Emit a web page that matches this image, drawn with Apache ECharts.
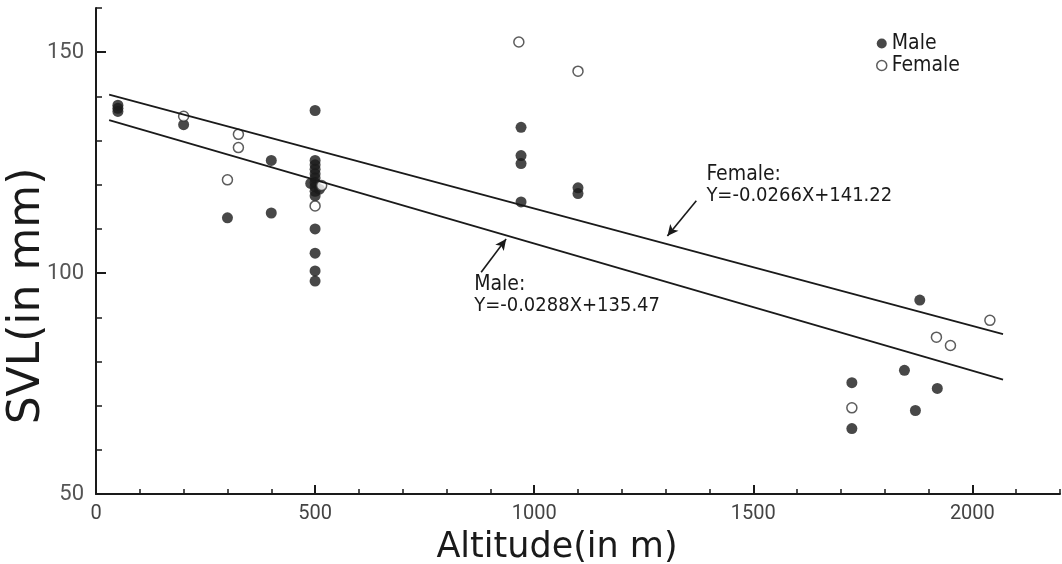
<!DOCTYPE html>
<html>
<head>
<meta charset="utf-8">
<script src="https://cdn.jsdelivr.net/npm/echarts@6/dist/echarts.min.js"></script>
<style>
html,body{margin:0;padding:0;background:#fff;}
#c{width:1062px;height:564px;}
</style>
</head>
<body>
<div id="c"></div>
<script>
// ---- data ----
const maleAltitude = [50, 50, 50, 200, 300, 400, 400, 500, 500, 500, 500, 500, 500, 500, 500, 500, 500, 490, 510, 500, 500, 500, 500, 970, 970, 970, 970, 1100, 1100, 1880, 1845, 1725, 1725, 1920, 1870];
const maleSVL      = [138.0, 137.3, 136.6, 133.6, 112.5, 125.5, 113.6, 136.8, 125.5, 124.5, 123.5, 122.5, 121.5, 120.5, 119.5, 118.5, 117.5, 120.3, 119.0, 110.0, 104.5, 100.5, 98.2, 133.0, 126.6, 124.8, 116.1, 119.3, 118.0, 93.9, 78.0, 75.2, 64.8, 73.9, 68.9];
const femaleAltitude = [200, 325, 325, 300, 515, 500, 965, 1100, 2040, 1918, 1950, 1725];
const femaleSVL      = [135.5, 131.4, 128.4, 121.1, 119.8, 115.2, 152.3, 145.7, 89.3, 85.5, 83.6, 69.5];

// regression lines (end points)
const femaleLineX = [30, 2070];
const femaleLineY = [140.4, 86.2];
const maleLineX = [30, 2070];
const maleLineY = [134.6, 75.9];

// annotation arrows (tail, head) in data units
const femaleArrowX = [1370, 1304];
const femaleArrowY = [116.4, 108.4];
const maleArrowX = [879, 936];
const maleArrowY = [100.2, 107.7];

const femaleLabel = ['Female:', 'Y=-0.0266X+141.22'];
const maleLabel = ['Male:', 'Y=-0.0288X+135.47'];
const femaleLabelAt = [1393, 122.3, 117.5];
const maleLabelAt = [863, 97.3, 92.5];

const xTickLabels = [0, 500, 1000, 1500, 2000];
const yTickLabels = [50, 100, 150];
const xTitle = 'Altitude(in m)';
const yTitle = 'SVL(in mm)';

// ---- chart ----
const zip = (a, b) => a.map((v, i) => [v, b[i]]);
const ink = '#1a1a1a';
const condensed = "'DejaVu Sans Condensed', 'Liberation Sans Narrow', 'DejaVu Sans', sans-serif";

const chart = echarts.init(document.getElementById('c'), null, {renderer: 'canvas'});

const option = {
  backgroundColor: '#fff',
  animation: false,
  grid: {left: 96, right: 2, top: 8, bottom: 70, containLabel: false},
  legend: {
    orient: 'vertical', left: 876, top: 33, padding: 0,
    itemWidth: 10, itemHeight: 10, itemGap: 1,
    textStyle: {fontSize: 21, color: ink, fontFamily: condensed},
    data: [
      {name: 'Male', icon: 'circle', itemStyle: {color: ink}},
      {name: 'Female', icon: 'circle', itemStyle: {color: '#fff', borderColor: '#333', borderWidth: 1.5}}
    ]
  },
  xAxis: [
    {
      type: 'value', min: 0, max: 2200, position: 'bottom',
      splitLine: {show: false},
      axisLine: {show: true, onZero: false, lineStyle: {color: ink, width: 2}},
      axisTick: {show: true, inside: true, length: 9, customValues: xTickLabels, lineStyle: {color: ink, width: 2}},
      axisLabel: {show: true, customValues: xTickLabels, margin: 10, fontSize: 20, color: '#444', fontFamily: 'Roboto', formatter: v => String(v)}
    },
    {
      type: 'value', min: 0, max: 2200, interval: 100, position: 'bottom', offset: 0,
      splitLine: {show: false},
      axisLine: {show: false},
      axisTick: {show: true, inside: true, length: 5, lineStyle: {color: ink, width: 1.5}},
      axisLabel: {show: false}
    }
  ],
  yAxis: [
    {
      type: 'value', min: 50, max: 160, position: 'left',
      splitLine: {show: false},
      axisLine: {show: true, onZero: false, lineStyle: {color: ink, width: 2}},
      axisTick: {show: true, inside: true, length: 10, customValues: yTickLabels, lineStyle: {color: ink, width: 2}},
      axisLabel: {show: true, customValues: yTickLabels, margin: 12, fontSize: 22, color: '#555', fontFamily: 'Roboto', formatter: v => String(v)}
    },
    {
      type: 'value', min: 50, max: 160, interval: 10, position: 'left', offset: 0,
      splitLine: {show: false},
      axisLine: {show: false},
      axisTick: {show: true, inside: true, length: 6, lineStyle: {color: ink, width: 1.5}},
      axisLabel: {show: false}
    }
  ],
  series: [
    {
      name: 'FemaleLine', type: 'line', silent: true, symbol: 'none',
      data: zip(femaleLineX, femaleLineY),
      lineStyle: {color: ink, width: 1.8},
      markLine: {
        silent: true, symbol: ['none', 'arrow'], symbolSize: [8, 11],
        label: {show: false},
        lineStyle: {color: ink, width: 1.6, type: 'solid'},
        data: [[
          {coord: [femaleArrowX[0], femaleArrowY[0]]},
          {coord: [femaleArrowX[1], femaleArrowY[1]]}
        ], [
          {coord: [maleArrowX[0], maleArrowY[0]]},
          {coord: [maleArrowX[1], maleArrowY[1]]}
        ]]
      }
    },
    {
      name: 'MaleLine', type: 'line', silent: true, symbol: 'none',
      data: zip(maleLineX, maleLineY),
      lineStyle: {color: ink, width: 1.8}
    },
    {
      name: 'Male', type: 'scatter', symbol: 'circle', symbolSize: 11,
      itemStyle: {color: ink},
      data: zip(maleAltitude, maleSVL)
    },
    {
      name: 'Female', type: 'scatter', symbol: 'circle', symbolSize: 10,
      itemStyle: {color: '#fff', borderColor: '#333', borderWidth: 1.5},
      data: zip(femaleAltitude, femaleSVL)
    }
  ]
};
chart.setOption(option);

function px(x, y) { return chart.convertToPixel({xAxisIndex: 0, yAxisIndex: 0}, [x, y]); }

const fHead = px(femaleLabelAt[0], femaleLabelAt[1]);
const fEq = px(femaleLabelAt[0], femaleLabelAt[2]);
const mHead = px(maleLabelAt[0], maleLabelAt[1]);
const mEq = px(maleLabelAt[0], maleLabelAt[2]);

chart.setOption({
  graphic: [
    {type: 'text', x: fHead[0], y: fHead[1], style: {text: femaleLabel[0], fill: ink, font: '21px ' + condensed, verticalAlign: 'middle', align: 'left'}},
    {type: 'text', x: fEq[0], y: fEq[1], style: {text: femaleLabel[1], fill: ink, font: '20px ' + condensed, verticalAlign: 'middle', align: 'left'}},
    {type: 'text', x: mHead[0], y: mHead[1], style: {text: maleLabel[0], fill: ink, font: '21px ' + condensed, verticalAlign: 'middle', align: 'left'}},
    {type: 'text', x: mEq[0], y: mEq[1], style: {text: maleLabel[1], fill: ink, font: '20px ' + condensed, verticalAlign: 'middle', align: 'left'}},
    {type: 'text', x: 557, y: 548, style: {text: xTitle, fill: ink, font: '35px DejaVu Sans', align: 'center', verticalAlign: 'middle'}},
    {type: 'text', x: 28, y: 296, rotation: Math.PI / 2, style: {text: yTitle, fill: ink, font: '44px DejaVu Sans', align: 'center', verticalAlign: 'middle'}}
  ]
});
</script>
</body>
</html>
